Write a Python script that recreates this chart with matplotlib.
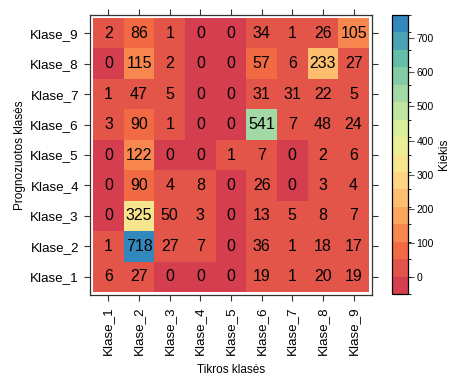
import numpy as np
import matplotlib
matplotlib.use("Agg")
import matplotlib.pyplot as plt
from matplotlib.colors import LinearSegmentedColormap, ListedColormap, BoundaryNorm

plt.rcParams['font.family'] = ['Liberation Sans', 'DejaVu Sans']

classes = ["Klase_1", "Klase_2", "Klase_3", "Klase_4", "Klase_5",
           "Klase_6", "Klase_7", "Klase_8", "Klase_9"]

# rows = predicted class (Klase_1 .. Klase_9), columns = true class
pred_1 = [6, 27, 0, 0, 0, 19, 1, 20, 19]
pred_2 = [1, 718, 27, 7, 0, 36, 1, 18, 17]
pred_3 = [0, 325, 50, 3, 0, 13, 5, 8, 7]
pred_4 = [0, 90, 4, 8, 0, 26, 0, 3, 4]
pred_5 = [0, 122, 0, 0, 1, 7, 0, 2, 6]
pred_6 = [3, 90, 1, 0, 0, 541, 7, 48, 24]
pred_7 = [1, 47, 5, 0, 0, 31, 31, 22, 5]
pred_8 = [0, 115, 2, 0, 0, 57, 6, 233, 27]
pred_9 = [2, 86, 1, 0, 0, 34, 1, 26, 105]

counts = np.array([pred_1, pred_2, pred_3, pred_4, pred_5,
                   pred_6, pred_7, pred_8, pred_9])

# 16 colour levels over the data range padded by 7% on each side
lo, hi = counts.min(), counts.max()
pad = 0.07 * (hi - lo)
breaks = np.linspace(lo - pad, hi + pad, 17)

spectral = ["#d53e4f", "#f46d43", "#fdae61", "#fee08b", "#e6f598",
            "#abdda4", "#66c2a5", "#3288bd"]
ramp = LinearSegmentedColormap.from_list("ramp", spectral)
cmap = ListedColormap(ramp(np.linspace(0, 1, 16)))
norm = BoundaryNorm(breaks, cmap.N)

fig = plt.figure(figsize=(4.51, 3.76), dpi=100)
ax = fig.add_axes([90 / 451, 81 / 376, 282 / 451, 280 / 376])
cax = fig.add_axes([392 / 451, 82 / 376, 16 / 451, 279 / 376])

n = len(classes)
edges = np.arange(n + 1) + 0.5
mesh = ax.pcolormesh(edges, edges, counts, cmap=cmap, norm=norm)

for i in range(n):
    for j in range(n):
        ax.text(j + 1, i + 1, str(counts[i, j]), ha="center", va="center",
                fontsize=11.5, color="black")

ax.set_xlim(0.4, n + 0.6)
ax.set_ylim(0.4, n + 0.6)
ax.set_xticks(np.arange(1, n + 1))
ax.set_yticks(np.arange(1, n + 1))
ax.set_xticklabels(classes, rotation=90)
ax.set_yticklabels(classes)
ax.tick_params(axis="both", direction="out", length=4, width=0.8,
               labelsize=9.6, pad=4, color="#333333",
               top=True, right=True)
for s in ax.spines.values():
    s.set_linewidth(0.9)
    s.set_color("#333333")

ax.set_xlabel("Tikros klasės", fontsize=8.5)
ax.set_ylabel("Prognozuotos klasės", fontsize=8.5)
ax.xaxis.set_label_coords(0.5, -0.245)
ax.xaxis.label.set_va("top")
ax.yaxis.set_label_coords(-0.228, 0.5)

cb = fig.colorbar(mesh, cax=cax, boundaries=breaks,
                  ticks=np.arange(0, 800, 100))
cb.outline.set_linewidth(0.9)
cb.ax.tick_params(length=4, width=0.8, labelsize=7.5, pad=2, color="#555555")
cb.set_label("Kiekis", fontsize=8.5, labelpad=3)

fig.savefig("out.png", dpi=100)
